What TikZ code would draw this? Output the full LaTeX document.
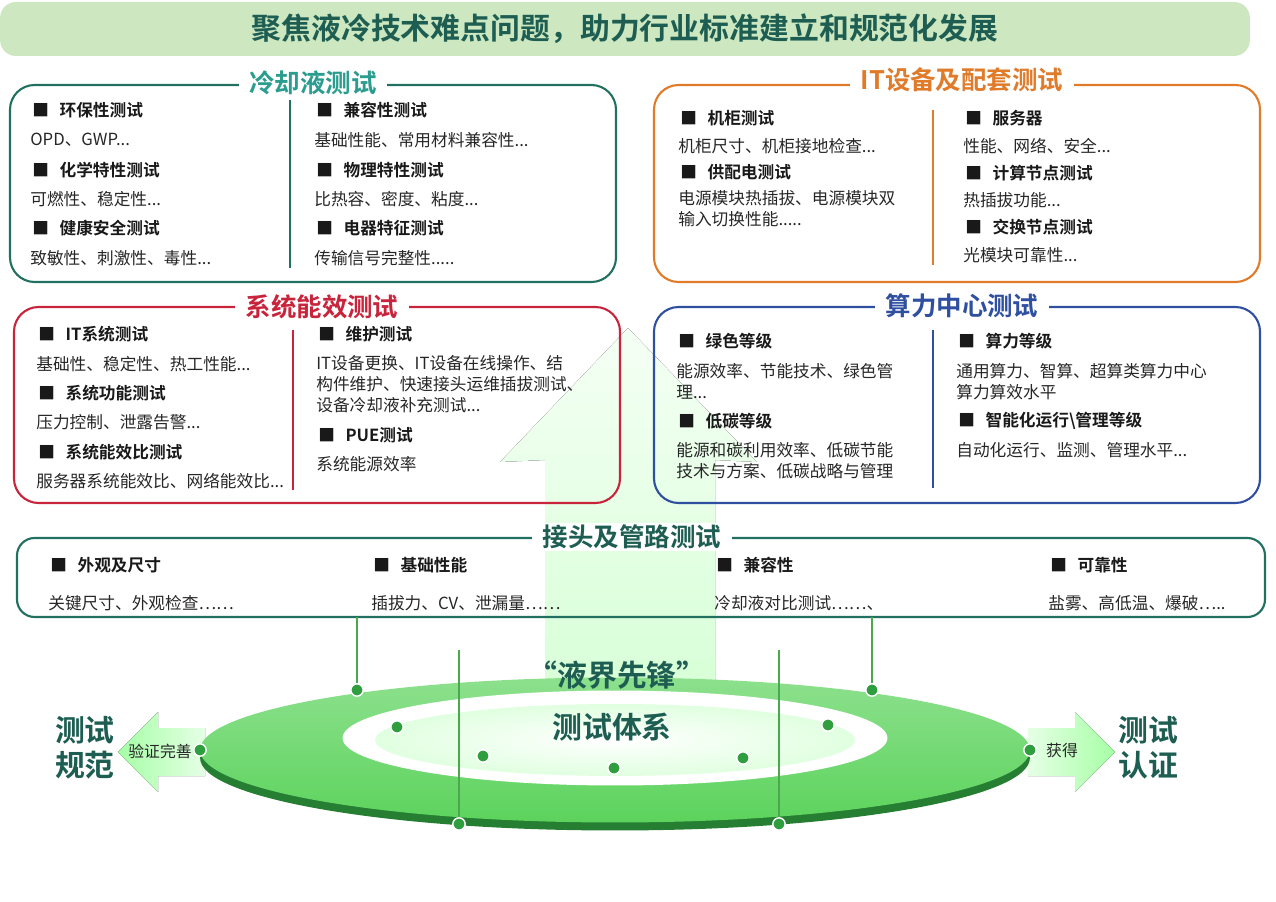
\documentclass[tikz,border=0pt]{standalone}
\usepackage{fontspec}
\setmainfont{Noto Sans CJK SC}
\newfontfamily\cjkb{Noto Sans CJK SC Bold}
\usetikzlibrary{shapes.arrows}
\definecolor{tealdk}{HTML}{1E5E52}
\definecolor{tealbd}{HTML}{22705F}
\definecolor{tealtt}{HTML}{2A9D8F}
\definecolor{orng}{HTML}{E07B2A}
\definecolor{crim}{HTML}{C8243C}
\definecolor{blu}{HTML}{2F4FA0}
\definecolor{bann}{HTML}{CDE8C0}
\definecolor{gr}{HTML}{5CD35C}
\definecolor{grd}{HTML}{2E9E3E}
\tikzset{
 panel/.style={draw=#1,line width=1.2pt,rounded corners=14pt},
 ttl/.style={fill=white,inner xsep=6pt,inner ysep=1pt,text=#1,font=\cjkb\fontsize{14.5}{16}\selectfont},
 hd/.style={anchor=west,inner sep=0pt,font=\cjkb\fontsize{9.5}{11}\selectfont,text=black!90},
 tx/.style={anchor=west,inner sep=0pt,font=\fontsize{9.5}{11}\selectfont,text=black!85},
 dot/.style={circle,fill=grd,draw=white,line width=0.8pt,inner sep=0pt,minimum size=7pt},
 gl/.style={draw=gr!80!black,line width=0.6pt},
}
\newcommand{\hditem}[3]{\node[hd] (#1) at (#2) {■\hspace{6pt}#3};}
\newcommand{\txitem}[3]{\node[tx] (#1) at (#2) {#3};}
\begin{document}
\begin{tikzpicture}[x=0.02cm,y=-0.02cm]
\useasboundingbox (0,0) rectangle (1276,902);
% big arrow
\fill[top color=green!4,bottom color=green!16] (545,700) -- (545,460) -- (500,462) -- (628,328) -- (757,462) -- (715,460) -- (715,700) -- cycle;
% banner
\node[fill=bann,rounded corners=9pt,minimum width=25cm,minimum height=1.08cm,anchor=center] (ban) at (625,29) {};
\node[text=tealdk,font=\cjkb\fontsize{17}{19}\selectfont] (bant) at (625,29) {聚焦液冷技术难点问题，助力行业标准建立和规范化发展};
% panel 1
\draw[panel=tealbd] (10,85) rectangle (616,282);
\node[ttl=tealtt] (t1) at (313,83) {冷却液测试};
\draw[tealbd,line width=1pt] (290,100) -- (290,268);
\hditem{a1}{32,110}{环保性测试}\txitem{a2}{30,140}{OPD、GWP...}
\hditem{a3}{32,170}{化学特性测试}\txitem{a4}{30,199}{可燃性、稳定性...}
\hditem{a5}{32,228}{健康安全测试}\txitem{a6}{30,258}{致敏性、刺激性、毒性...}
\hditem{b1}{316,110}{兼容性测试}\txitem{b2}{314,140}{基础性能、常用材料兼容性...}
\hditem{b3}{316,170}{物理特性测试}\txitem{b4}{314,199}{比热容、密度、粘度...}
\hditem{b5}{316,228}{电器特征测试}\txitem{b6}{314,258}{传输信号完整性.....}
% panel 2
\draw[panel=orng] (654,85) rectangle (1260,282);
\node[ttl=orng] (t2) at (962,80) {IT设备及配套测试};
\draw[orng,line width=1pt] (933,110) -- (933,265);
\hditem{c1}{680,118}{机柜测试}\txitem{c2}{678,146}{机柜尺寸、机柜接地检查...}
\hditem{c3}{680,172}{供配电测试}\txitem{c4}{678,198}{电源模块热插拔、电源模块双}
\txitem{c5}{678,219}{输入切换性能.....}
\hditem{d1}{965,118}{服务器}\txitem{d2}{963,146}{性能、网络、安全...}
\hditem{d3}{965,173}{计算节点测试}\txitem{d4}{963,200}{热插拔功能...}
\hditem{d5}{965,227}{交换节点测试}\txitem{d6}{963,255}{光模块可靠性...}
% panel 3
\draw[panel=crim] (14,307) rectangle (620,503);
\node[ttl=crim] (t3) at (322,307) {系统能效测试};
\draw[crim,line width=1pt] (293,330) -- (293,490);
\hditem{e1}{38,334}{IT系统测试}\txitem{e2}{36,364}{基础性、稳定性、热工性能...}
\hditem{e3}{38,393}{系统功能测试}\txitem{e4}{36,422}{压力控制、泄露告警...}
\hditem{e5}{38,452}{系统能效比测试}\txitem{e6}{36,481}{服务器系统能效比、网络能效比...}
\hditem{f1}{318,334}{维护测试}\txitem{f2}{316,363}{IT设备更换、IT设备在线操作、结}
\txitem{f3}{316,384}{构件维护、快速接头运维插拔测试、}
\txitem{f4}{316,405}{设备冷却液补充测试...}
\hditem{f5}{318,435}{PUE测试}\txitem{f6}{316,464}{系统能源效率}
% panel 4
\draw[panel=blu] (654,307) rectangle (1260,503);
\node[ttl=blu] (t4) at (962,306) {算力中心测试};
\draw[blu,line width=1pt] (933,330) -- (933,488);
\hditem{g1}{678,341}{绿色等级}\txitem{g2}{676,371}{能源效率、节能技术、绿色管}
\txitem{g3}{676,392}{理...}
\hditem{g4}{678,421}{低碳等级}\txitem{g5}{676,450}{能源和碳利用效率、低碳节能}
\txitem{g6}{676,471}{技术与方案、低碳战略与管理}
\hditem{h1}{958,341}{算力等级}\txitem{h2}{956,371}{通用算力、智算、超算类算力中心}
\txitem{h3}{956,392}{算力算效水平}
\hditem{h4}{958,421}{智能化运行\textbackslash 管理等级}\txitem{h5}{956,450}{自动化运行、监测、管理水平...}
% panel 5
\draw[panel=tealbd,rounded corners=10pt] (17,538) rectangle (1265,617);
\node[ttl=tealdk,fill=white] (t5) at (632,537) {接头及管路测试};
\hditem{k1}{50,565}{外观及尺寸}\txitem{k2}{48,603}{关键尺寸、外观检查……}
\hditem{k3}{373,565}{基础性能}\txitem{k4}{371,603}{插拔力、CV、泄漏量……}
\hditem{k5}{716,565}{兼容性}\txitem{k6}{714,603}{冷却液对比测试……、}
\hditem{k7}{1050,565}{可靠性}\txitem{k8}{1048,603}{盐雾、高低温、爆破…..}
% side arrows
\fill[left color=green!35,right color=green!10] (118,752) -- (158,712) -- (158,728) -- (205,728) -- (205,776) -- (158,776) -- (158,792) -- cycle;
\fill[left color=green!10,right color=green!35] (1115,752) -- (1075,712) -- (1075,728) -- (1028,728) -- (1028,776) -- (1075,776) -- (1075,792) -- cycle;
% ring
\fill[grd!80!black] (615,758) ellipse [x radius=8.3cm,y radius=1.45cm];
\shade[top color=gr!70!white,bottom color=gr] (615,750) ellipse [x radius=8.3cm,y radius=1.45cm];
\fill[white] (615,738) ellipse [x radius=5.45cm,y radius=0.95cm];
\shade[inner color=white,outer color=green!12] (615,740) ellipse [x radius=4.8cm,y radius=0.72cm];
\node[text=tealdk,font=\cjkb\fontsize{17}{19}\selectfont] (sl) at (617,675) {“液界先锋”};
\node[text=tealdk,font=\cjkb\fontsize{17}{19}\selectfont] (s2) at (612,727) {测试体系};
\node[font=\fontsize{9}{10}\selectfont,text=black!85] (l1) at (160,751) {验证完善};
\node[font=\fontsize{9}{10}\selectfont,text=black!85] (l2) at (1062,751) {获得};
\node[text=tealdk,font=\cjkb\fontsize{17}{20}\selectfont,align=center] (lt) at (85,748) {测试\\规范};
\node[text=tealdk,font=\cjkb\fontsize{17}{20}\selectfont,align=center] (rt) at (1148,748) {测试\\认证};
% dots and lines
\coordinate (p1) at (357,617);\coordinate (p2) at (872,617);
\coordinate (p3) at (459,650);\coordinate (p4) at (779,650);
\node[dot] (d1) at (357,690) {};\node[dot] (d2) at (872,690) {};
\node[dot] (d3) at (459,824) {};\node[dot] (d4) at (779,824) {};
\node[dot] (d5) at (397,727) {};\node[dot] (d6) at (828,725) {};
\node[dot] (d7) at (483,756) {};\node[dot] (d8) at (743,758) {};
\node[dot] (d9) at (614,768) {};
\node[dot] (d10) at (200,750) {};\node[dot] (d11) at (1030,750) {};
\draw[gl] (p1) -- (d1); \draw[gl] (p2) -- (d2);
\draw[gl] (p3) -- (d3); \draw[gl] (p4) -- (d4);
\end{tikzpicture}
\end{document}
